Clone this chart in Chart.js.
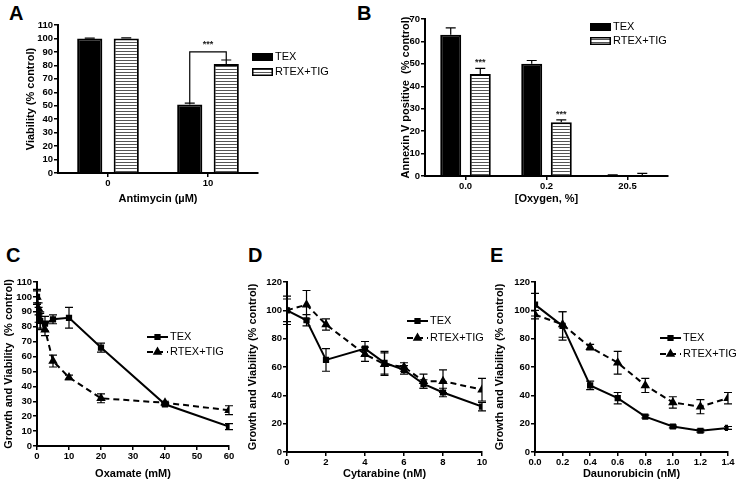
<!DOCTYPE html>
<html>
<head>
<meta charset="utf-8">
<script src="https://cdn.jsdelivr.net/npm/chart.js@4.4.1/dist/chart.umd.min.js"></script>
<style>
  body { margin: 0; background: #fff; }
  #wrap { position: relative; width: 737px; height: 488px; overflow: hidden; }
  canvas { position: absolute; }
  .tag { position: absolute; font: bold 20px 'Liberation Sans', Arial, sans-serif; line-height: 20px; }
</style>
</head>
<body>
<div id="wrap">
  <div class="tag" style="left:9px;top:3px">A</div>
  <div class="tag" style="left:357px;top:3px">B</div>
  <div class="tag" style="left:6px;top:245px">C</div>
  <div class="tag" style="left:248px;top:245px">D</div>
  <div class="tag" style="left:490px;top:245px">E</div>
  <canvas id="chartA" width="340" height="215" style="left:0;top:0"></canvas>
  <canvas id="chartB" width="377" height="215" style="left:360px;top:0"></canvas>
  <canvas id="chartC" width="245" height="248" style="left:0;top:240px"></canvas>
  <canvas id="chartD" width="245" height="248" style="left:245px;top:240px"></canvas>
  <canvas id="chartE" width="247" height="248" style="left:490px;top:240px"></canvas>
</div>
<script>
// panel A - antimycin
const antimycinLabels = ["0", "10"]
const antimycinTex = [100, 51]
const antimycinTexErr = [0.3, 1]
const antimycinRtig = [100, 81]
const antimycinRtigErr = [0.5, 3]

// panel B - oxygen
const oxygenLabels = ["0.0", "0.2", "20.5"]
const oxygenTex = [63, 50, 0.4]
const oxygenTexErr = [3, 1.5, 0.1]
const oxygenRtig = [45.5, 24, 0.4]
const oxygenRtigErr = [2.5, 1, 0.8]

// panel C - oxamate (mM)
const oxamateDose = [0, 0.5, 1, 2.5, 5, 10, 20, 40, 60]
const oxamateTex = [100, 88, 84, 82, 85, 86, 66, 28, 13]
const oxamateTexErr = [4, 5, 6, 5, 3, 7, 3, 1, 2]
const oxamateRtig = [100, 92, 84, 78, 57, 46, 32, 29, 24]
const oxamateRtigErr = [5, 4, 5, 4, 4, 1.5, 3, 1, 3]

// panel D - cytarabine (nM)
const cytarabineDose = [0, 1, 2, 4, 5, 6, 7, 8, 10]
const cytarabineTex = [100, 93, 65, 73, 63, 58, 48, 42, 32]
const cytarabineTexErr = [8, 4, 8, 5, 8, 3, 3, 3, 3]
const cytarabineRtig = [100, 104, 90, 69, 62, 60, 50, 50, 44]
const cytarabineRtigErr = [10, 10, 4, 5, 8, 3, 5, 8, 8]

// panel E - daunorubicin (nM)
const daunoDose = [0, 0.2, 0.4, 0.6, 0.8, 1.0, 1.2, 1.4]
const daunoTex = [104, 89, 47, 38, 25, 18, 15, 17]
const daunoTexErr = [8, 10, 3, 4, 1, 1, 1, 1]
const daunoRtig = [97, 90, 74, 63, 47, 35, 32, 38]
const daunoRtigErr = [3, 9, 2, 8, 5, 4, 5, 4]

const FONT = "'Liberation Sans', Arial, sans-serif"
Chart.defaults.font.family = FONT
Chart.defaults.color = "#000"

const tickFont = { size: 9.5, weight: "bold" }
const titleFont = { size: 11, weight: "bold" }

function hatchPattern() {
  const c = document.createElement("canvas")
  c.width = 8
  c.height = 3
  const g = c.getContext("2d")
  g.fillStyle = "#fff"
  g.fillRect(0, 0, 8, 3)
  g.fillStyle = "#555"
  g.fillRect(0, 0, 8, 1)
  return g.createPattern(c, "repeat")
}
const hatch = hatchPattern()

// error bars from dataset.errors, upper only for bars
const errorBars = {
  id: "errorBars",
  afterDatasetsDraw(chart) {
    const ctx = chart.ctx
    const yScale = chart.scales.y
    chart.data.datasets.forEach((ds, i) => {
      if (!ds.errors) return
      const meta = chart.getDatasetMeta(i)
      ctx.save()
      ctx.strokeStyle = "#000"
      ctx.lineWidth = 1.2
      meta.data.forEach((el, j) => {
        const v = ds.data[j]
        const val = typeof v === "object" ? v.y : v
        const e = ds.errors[j]
        const w = ds.capWidth
        const top = yScale.getPixelForValue(val + e)
        const bottom = ds.upperOnly ? el.y : yScale.getPixelForValue(val - e)
        ctx.beginPath()
        ctx.moveTo(el.x, top)
        ctx.lineTo(el.x, bottom)
        ctx.moveTo(el.x - w, top)
        ctx.lineTo(el.x + w, top)
        if (!ds.upperOnly) {
          ctx.moveTo(el.x - w, bottom)
          ctx.lineTo(el.x + w, bottom)
        }
        ctx.stroke()
      })
      ctx.restore()
    })
  }
}

// legend at a fixed spot beside the plot
const sideLegend = {
  id: "sideLegend",
  afterDraw(chart, args, opts) {
    const ctx = chart.ctx
    chart.data.datasets.forEach((ds, i) => {
      const y = opts.y + i * opts.gap
      ctx.save()
      if (opts.kind === "box") {
        ctx.fillStyle = ds.backgroundColor
        ctx.fillRect(opts.x, y - 4, 21, 8)
        ctx.strokeStyle = "#000"
        ctx.lineWidth = 1.5
        ctx.strokeRect(opts.x + 0.75, y - 3.25, 19.5, 6.5)
      } else {
        ctx.strokeStyle = "#000"
        ctx.lineWidth = 2
        ctx.setLineDash(ds.borderDash || [])
        ctx.beginPath()
        ctx.moveTo(opts.x, y)
        ctx.lineTo(opts.x + 21, y)
        ctx.stroke()
        ctx.setLineDash([])
        ctx.fillStyle = "#000"
        Chart.helpers.drawPoint(ctx, { pointStyle: ds.pointStyle, radius: ds.pointRadius, rotation: 0, borderWidth: 1 }, opts.x + 10.5, y)
      }
      ctx.fillStyle = "#000"
      ctx.font = "11px " + FONT
      ctx.textBaseline = "middle"
      ctx.textAlign = "left"
      ctx.fillText(ds.label, opts.x + 23, y)
      ctx.restore()
    })
  }
}

// significance stars and bracket
const sigMarks = {
  id: "sigMarks",
  afterDatasetsDraw(chart, args, opts) {
    const ctx = chart.ctx
    const y = chart.scales.y
    ctx.save()
    ctx.strokeStyle = "#000"
    ctx.fillStyle = "#222"
    ctx.lineWidth = 1.2
    ctx.font = "bold 9px " + FONT
    ctx.textAlign = "center"
    ctx.textBaseline = "bottom"
    ;(opts.stars || []).forEach(s => {
      const el = chart.getDatasetMeta(s.dataset).data[s.index]
      ctx.fillText("***", el.x, y.getPixelForValue(s.value) - 1)
    })
    ;(opts.brackets || []).forEach(b => {
      const a = chart.getDatasetMeta(b.from).data[b.index]
      const c = chart.getDatasetMeta(b.to).data[b.index]
      const top = y.getPixelForValue(b.level)
      ctx.beginPath()
      ctx.moveTo(a.x, y.getPixelForValue(b.fromValue))
      ctx.lineTo(a.x, top)
      ctx.lineTo(c.x, top)
      ctx.lineTo(c.x, y.getPixelForValue(b.toValue))
      ctx.stroke()
      ctx.fillText("***", (a.x + c.x) / 2, top - 3)
    })
    ctx.restore()
  }
}

function axis(opts) {
  const ticks = { font: tickFont, color: "#000", padding: 1, autoSkip: false, maxRotation: 0 }
  if (opts.step) ticks.stepSize = opts.step
  if (opts.callback) ticks.callback = opts.callback
  const a = {
    type: opts.type,
    ticks: ticks,
    grid: { offset: false, drawOnChartArea: false, color: "#000", lineWidth: 1.5, tickLength: 4 },
    border: { color: "#000", width: 2 },
    title: { display: true, text: opts.title, font: titleFont, color: "#000", padding: 0 },
    afterFit: s => {
      if (opts.width) s.width = opts.width
      if (opts.height) s.height = opts.height
    }
  }
  if (opts.min !== undefined) a.min = opts.min
  if (opts.max !== undefined) a.max = opts.max
  if (opts.offset !== undefined) a.offset = opts.offset
  return a
}

const baseOptions = {
  responsive: false,
  animation: false,
  events: [],
}

function barChart(id, labels, tex, texErr, rtig, rtigErr, cfg) {
  return new Chart(document.getElementById(id), {
    type: "bar",
    data: {
      labels: labels,
      datasets: [
        { label: "TEX", data: tex, errors: texErr, upperOnly: true, capWidth: 5,
          backgroundColor: "#000", borderColor: "#000", borderWidth: 2 },
        { label: "RTEX+TIG", data: rtig, errors: rtigErr, upperOnly: true, capWidth: 5,
          backgroundColor: hatch, borderColor: "#000", borderWidth: 2 },
      ],
    },
    options: {
      ...baseOptions,
      layout: { padding: cfg.padding },
      datasets: { bar: { categoryPercentage: cfg.catPct, barPercentage: cfg.barPct } },
      scales: {
        x: axis({ type: "category", offset: true, title: cfg.xTitle, height: cfg.xHeight }),
        y: axis({ min: 0, max: cfg.yMax, step: 10, title: cfg.yTitle, width: cfg.yWidth }),
      },
      plugins: {
        legend: { display: false },
        tooltip: { enabled: false },
        sideLegend: { kind: "box", x: cfg.legendX, y: cfg.legendY, gap: cfg.legendGap },
        sigMarks: cfg.sig,
      },
    },
    plugins: [errorBars, sideLegend, sigMarks],
  })
}

function lineChart(id, dose, tex, texErr, rtig, rtigErr, cfg) {
  const pts = arr => dose.map((d, i) => ({ x: d, y: arr[i] }))
  return new Chart(document.getElementById(id), {
    type: "line",
    data: {
      datasets: [
        { label: "TEX", data: pts(tex), errors: texErr, capWidth: 4,
          borderColor: "#000", backgroundColor: "#000", borderWidth: 2,
          pointStyle: "rect", pointRadius: 3, pointBackgroundColor: "#000", pointBorderColor: "#000" },
        { label: "RTEX+TIG", data: pts(rtig), errors: rtigErr, capWidth: 4,
          borderColor: "#000", backgroundColor: "#000", borderWidth: 2, borderDash: [6, 4],
          pointStyle: "triangle", pointRadius: 3.5, pointBackgroundColor: "#000", pointBorderColor: "#000" },
      ],
    },
    options: {
      ...baseOptions,
      layout: { padding: cfg.padding },
      scales: {
        x: axis({ type: "linear", min: 0, max: cfg.xMax, step: cfg.xStep, title: cfg.xTitle, height: cfg.xHeight, callback: cfg.xFmt }),
        y: axis({ min: 0, max: cfg.yMax, step: cfg.yStep, title: cfg.yTitle, width: cfg.yWidth }),
      },
      plugins: {
        legend: { display: false },
        tooltip: { enabled: false },
        sideLegend: { kind: "line", x: cfg.legendX, y: cfg.legendY, gap: cfg.legendGap },
      },
    },
    plugins: [errorBars, sideLegend],
  })
}

barChart("chartA", antimycinLabels, antimycinTex, antimycinTexErr, antimycinRtig, antimycinRtigErr, {
  padding: { left: 24, top: 25, right: 82, bottom: 9 },
  yWidth: 34, xHeight: 33, yMax: 110,
  catPct: 0.73, barPct: 0.69,
  xTitle: "Antimycin (\u00b5M)", yTitle: "Viability (% control)",
  legendX: 252, legendY: 57, legendGap: 15,
  sig: { brackets: [{ from: 0, to: 1, index: 1, fromValue: 52, level: 90, toValue: 84 }] },
})

barChart("chartB", oxygenLabels, oxygenTex, oxygenTexErr, oxygenRtig, oxygenRtigErr, {
  padding: { left: 39, top: 19, right: 69, bottom: 9 },
  yWidth: 26, xHeight: 30, yMax: 70,
  catPct: 0.73, barPct: 0.71,
  xTitle: "[Oxygen, %]", yTitle: "Annexin V positive  (% control)",
  legendX: 230, legendY: 27, legendGap: 14,
  sig: { stars: [{ dataset: 1, index: 0, value: 48 }, { dataset: 1, index: 1, value: 25 }] },
})

lineChart("chartC", oxamateDose, oxamateTex, oxamateTexErr, oxamateRtig, oxamateRtigErr, {
  padding: { left: 2, top: 42, right: 16, bottom: 7 },
  yWidth: 35, xHeight: 35,
  xMax: 60, xStep: 10, yMax: 110, yStep: 10,
  xTitle: "Oxamate (mM)", yTitle: "Growth and Viability  (% control)",
  legendX: 147, legendY: 97, legendGap: 15,
})

lineChart("chartD", cytarabineDose, cytarabineTex, cytarabineTexErr, cytarabineRtig, cytarabineRtigErr, {
  padding: { left: 1, top: 42, right: 8, bottom: 7 },
  yWidth: 41, xHeight: 29,
  xMax: 10, xStep: 2, yMax: 120, yStep: 20,
  xTitle: "Cytarabine (nM)", yTitle: "Growth and Viability (% control)",
  legendX: 162, legendY: 81, legendGap: 17,
})

lineChart("chartE", daunoDose, daunoTex, daunoTexErr, daunoRtig, daunoRtigErr, {
  padding: { left: 3, top: 42, right: 9, bottom: 7 },
  yWidth: 42, xHeight: 29,
  xMax: 1.4, xStep: 0.2, yMax: 120, yStep: 20,
  xTitle: "Daunorubicin (nM)", yTitle: "Growth and Viability (% control)",
  xFmt: v => Number(v).toFixed(1),
  legendX: 170, legendY: 98, legendGap: 16,
})
</script>
</body>
</html>
